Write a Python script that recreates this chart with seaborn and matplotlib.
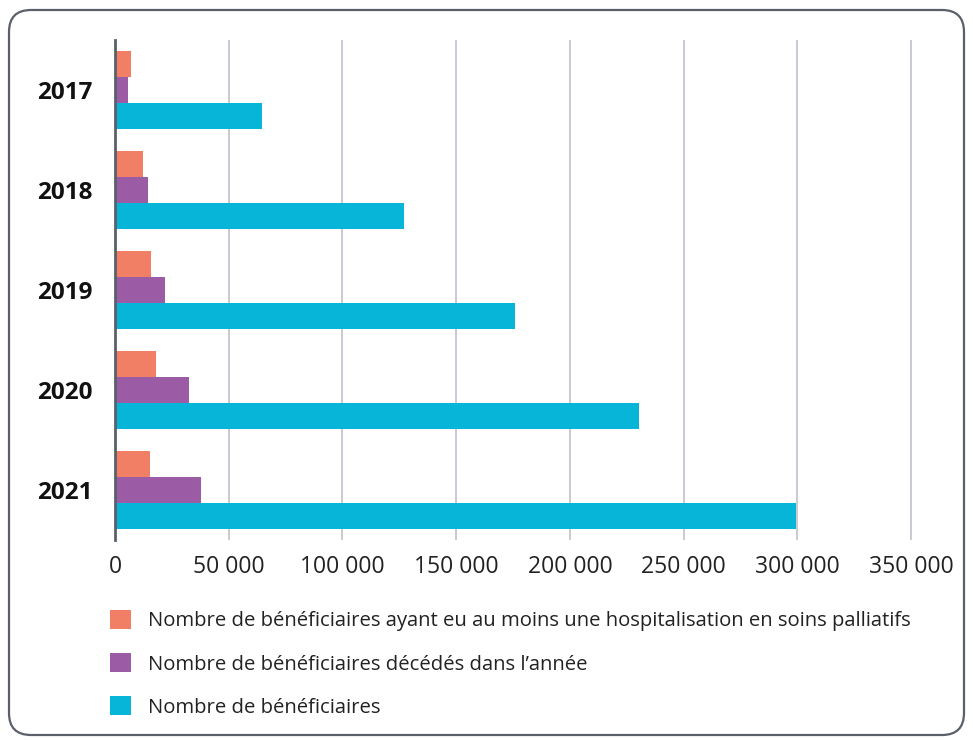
import matplotlib
matplotlib.use("Agg")
import matplotlib.pyplot as plt
import matplotlib.transforms as mtransforms
from matplotlib.patches import FancyBboxPatch, Patch
import pandas as pd
import seaborn as sns

# ---------------- Data ----------------
years = ["2017", "2018", "2019", "2020", "2021"]
series_names = [
    "Nombre de bénéficiaires ayant eu au moins une hospitalisation en soins palliatifs",
    "Nombre de bénéficiaires décédés dans l’année",
    "Nombre de bénéficiaires",
]
hospitalises = [7000, 12300, 15900, 18000, 15400]
decedes = [5700, 14300, 22000, 32600, 37800]
beneficiaires = [64600, 127100, 175900, 230300, 299500]
colors = ["#F07F65", "#9B5BA5", "#07B5D9"]
xticks = [0, 50000, 100000, 150000, 200000, 250000, 300000, 350000]

rows = []
for name, vals in zip(series_names, [hospitalises, decedes, beneficiaires]):
    for y, v in zip(years, vals):
        rows.append({"annee": y, "serie": name, "valeur": v})
df = pd.DataFrame(rows)

# ---------------- Plot ----------------
sns.set_style("white")
plt.rcParams["font.family"] = ["Open Sans", "DejaVu Sans"]

fig = plt.figure(figsize=(9.73, 7.40), dpi=100)
ax = fig.add_axes([115 / 973, 1 - 540 / 740, 812 / 973, 500 / 740])

sns.barplot(data=df, y="annee", x="valeur", hue="serie", orient="h",
            hue_order=series_names, palette=colors, saturation=1, width=0.78,
            linewidth=0, ax=ax, legend=False)

ax.set_xlim(0, 357000)
ax.set_ylim(4.5, -0.5)
ax.set_xticks(xticks)
ax.set_xticklabels([f"{t:,}".replace(",", " ") for t in xticks],
                   fontsize=16.5, color="#222222")
ax.set_yticks(range(len(years)))
ax.set_yticklabels(years, fontsize=17.5, fontweight="bold", color="#111111")
ax.set_xlabel("")
ax.set_ylabel("")
ax.tick_params(axis="x", length=0, pad=11)
ax.tick_params(axis="y", length=0, pad=16)

ax.grid(axis="x", color="#c3c6cf", linewidth=1.3)
ax.set_axisbelow(True)
for s in ["top", "right", "bottom"]:
    ax.spines[s].set_visible(False)
ax.spines["left"].set_color("#5b5f69")
ax.spines["left"].set_linewidth(2)
ax.spines["left"].set_zorder(5)

# legend below the chart
handles = [Patch(facecolor=c, edgecolor="none") for c in colors]
fig.legend(handles, series_names, loc="upper left",
           bbox_to_anchor=(110 / 973, 1 - 610 / 740), frameon=False,
           borderpad=0, borderaxespad=0,
           fontsize=14.6, handlelength=1.05, handleheight=1.05,
           labelspacing=1.08, handletextpad=0.8, labelcolor="#222222")

# rounded frame around the whole figure
frame = FancyBboxPatch((9, 5), 955, 725, boxstyle="round,pad=0,rounding_size=22",
                       transform=mtransforms.IdentityTransform(),
                       facecolor="none", edgecolor="#5b5f69", linewidth=1.6)
fig.patches.append(frame)

fig.savefig("out.png", dpi=100)
